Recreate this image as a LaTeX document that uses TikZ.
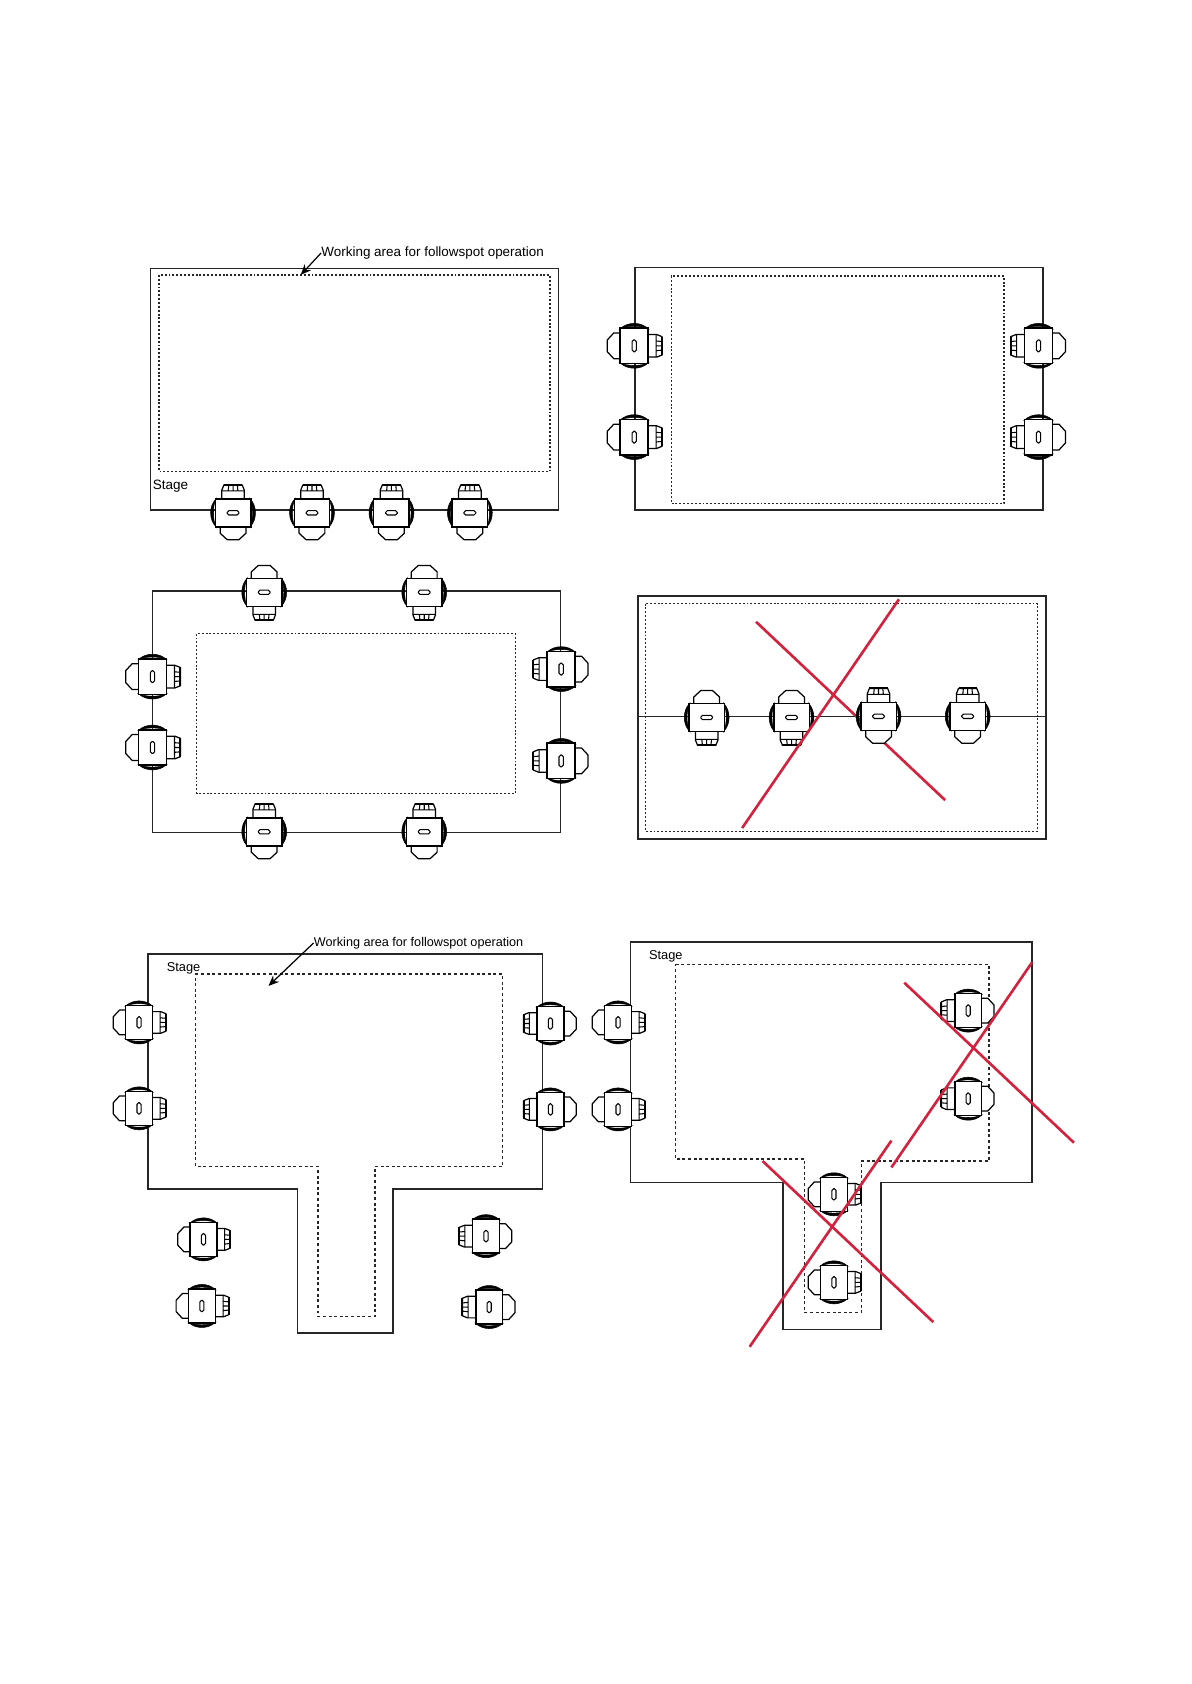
\documentclass[tikz,border=0pt]{standalone}
\usepackage{fontspec}
\setmainfont{Liberation Sans}
\usetikzlibrary{arrows.meta}
\definecolor{crossred}{HTML}{D4213D}
\tikzset{
  x=0.02148cm,y=-0.02148cm,
  outline/.style={draw=black!85,line width=0.95pt,line join=miter},
  dots/.style={draw=black!85,line width=0.8pt,dash pattern=on 1.1pt off 1.1pt},
  wide dots/.style={draw=black!85,line width=0.8pt,dash pattern=on 1.7pt off 1.5pt},
  crossline/.style={draw=crossred,line width=1.5pt},
  leader/.style={draw=black,line width=0.7pt,-{Stealth[length=6pt,width=5pt]}},
  caption/.style={inner sep=0pt,anchor=west,text=black},
  small spot/.style={scale=0.96},
  spot/.pic={
    \draw[line width=0.7pt,line join=round,fill=white] (-10.5,-12) -- (-10.5,-21) -- (-8.5,-26) -- (8.5,-26) -- (10.5,-21) -- (10.5,-12) -- cycle;
    \draw[line width=0.6pt] (-10.5,-20.5) -- (10.5,-20.5)
      (-4,-26) -- (-4.5,-20.5) (0,-26) -- (0,-20.5) (4,-26) -- (4.5,-20.5);
    \draw[line width=1.2pt] (-8.5,-26) -- (8.5,-26);
    \draw[line width=0.7pt,line join=round,fill=white] (-12,12) -- (-12,19) -- (-5.5,25) -- (5.5,25) -- (12,19) -- (12,12) -- cycle;
    \draw[line width=0.3pt,fill=black] (-16,-13) .. controls (-22.5,-6) and (-22.5,6) .. (-16,13) .. controls (-19,6) and (-19,-6) .. (-16,-13) -- cycle;
    \draw[line width=0.3pt,fill=black] (16,-13) .. controls (22.5,-6) and (22.5,6) .. (16,13) .. controls (19,6) and (19,-6) .. (16,-13) -- cycle;
    \draw[line width=0.85pt,fill=white] (-16.5,-13) rectangle (16.5,13);
    \draw[line width=0.6pt,rounded corners=1pt] (-5.5,-2) rectangle (5.5,2);
  }
}
\begin{document}
\begin{tikzpicture}
\useasboundingbox[fill=white] (0,0) rectangle (1109,1568);
% panel 1
\draw[outline] (140,250) rectangle (520,475);
\draw[dots] (148,256) rectangle (512,439);
\node[caption,font=\fontsize{7.65pt}{8pt}\selectfont] (work1) at (299,235.5) {Working area for followspot operation};
\coordinate (work1tip) at (280,256);
\draw[leader] (work1.west) -- (work1tip);
\node[caption,font=\fontsize{7.7pt}{8pt}\selectfont] (stage1) at (142,453) {Stage};
\foreach \x in {217,290.5,364.5,437.5} \pic at (\x,477.5) {spot};
% panel 2
\draw[outline] (591,249) rectangle (971,475);
\draw[dots] (625,257) rectangle (935,469);
\foreach \y in {322,407} {
  \pic[rotate=-90] at (590.5,\y) {spot};
  \pic[rotate=90] at (967,\y) {spot};
}
% panel 3
\draw[outline] (142,550) rectangle (522,775);
\draw[dots] (183,590) rectangle (480,739);
\foreach \x in {246,395} {
  \pic[rotate=180] at (\x,551.5) {spot};
  \pic at (\x,774.5) {spot};
}
\foreach \y in {630,696} \pic[rotate=-90] at (142,\y) {spot};
\foreach \y in {623,708.5} \pic[rotate=90] at (522.5,\y) {spot};
% panel 4
\draw[outline] (594,555) rectangle (974,781);
\draw[dots] (601,562) rectangle (966,774);
\coordinate (midL) at (594,667);
\coordinate (midR) at (974,667);
\draw[outline] (midL) -- (midR);
\coordinate (c1a) at (704,579);
\coordinate (c1b) at (880,745);
\draw[crossline] (c1a) -- (c1b);
\foreach \x in {658,737} \pic[rotate=180] at (\x,668) {spot};
\foreach \x in {818,901} \pic at (\x,667) {spot};
\coordinate (c2a) at (837,558);
\coordinate (c2b) at (691,771);
\draw[crossline] (c2a) -- (c2b);
% panel 5
\draw[outline] (138,888) -- (505,888) -- (505,1107) -- (366,1107) -- (366,1241) -- (277,1241) -- (277,1107) -- (138,1107) -- cycle;
\draw[wide dots] (182,907) -- (468,907) -- (468,1086) -- (349,1086) -- (349,1226) -- (296,1226) -- (296,1086) -- (182,1086) -- cycle;
\node[caption,font=\fontsize{7.2pt}{8pt}\selectfont] (work2) at (292,878) {Working area for followspot operation};
\coordinate (work2tip) at (250,918);
\draw[leader] (work2.west) -- (work2tip);
\node[caption,font=\fontsize{7.3pt}{8pt}\selectfont] (stage2) at (155,901.5) {Stage};
\foreach \y in {952,1032} \pic[rotate=-90,small spot] at (129.5,\y) {spot};
\foreach \y in {953,1033} \pic[rotate=90,small spot] at (512.5,\y) {spot};
\pic[rotate=-90,small spot] at (189.5,1154) {spot};
\pic[rotate=-90,small spot] at (188,1216) {spot};
\pic[rotate=90,small spot] at (452.5,1151) {spot};
\pic[rotate=90,small spot] at (455.5,1217) {spot};
% panel 6
\draw[outline] (587,877) -- (961,877) -- (961,1101) -- (820,1101) -- (820,1238) -- (729,1238) -- (729,1101) -- (587,1101) -- cycle;
\draw[wide dots] (629,898) -- (921,898) -- (921,1081) -- (802,1081) -- (802,1222) -- (749,1222) -- (749,1079) -- (629,1079) -- cycle;
\node[caption,font=\fontsize{7.3pt}{8pt}\selectfont] (stage3) at (604,890.5) {Stage};
\foreach \y in {952,1033} \pic[rotate=-90,small spot] at (575.5,\y) {spot};
\foreach \y in {941,1023} \pic[rotate=90,small spot] at (901.5,\y) {spot};
\foreach \y in {1112,1194} \pic[rotate=-90,small spot] at (776.5,\y) {spot};
\coordinate (c3a) at (842,915);
\coordinate (c3b) at (1000,1064);
\coordinate (c4a) at (961,896);
\coordinate (c4b) at (830,1087);
\coordinate (c5a) at (710,1081);
\coordinate (c5b) at (869,1231);
\coordinate (c6a) at (830,1062);
\coordinate (c6b) at (698,1254);
\draw[crossline] (c3a) -- (c3b);
\draw[crossline] (c4a) -- (c4b);
\draw[crossline] (c5a) -- (c5b);
\draw[crossline] (c6a) -- (c6b);
\end{tikzpicture}
\end{document}
